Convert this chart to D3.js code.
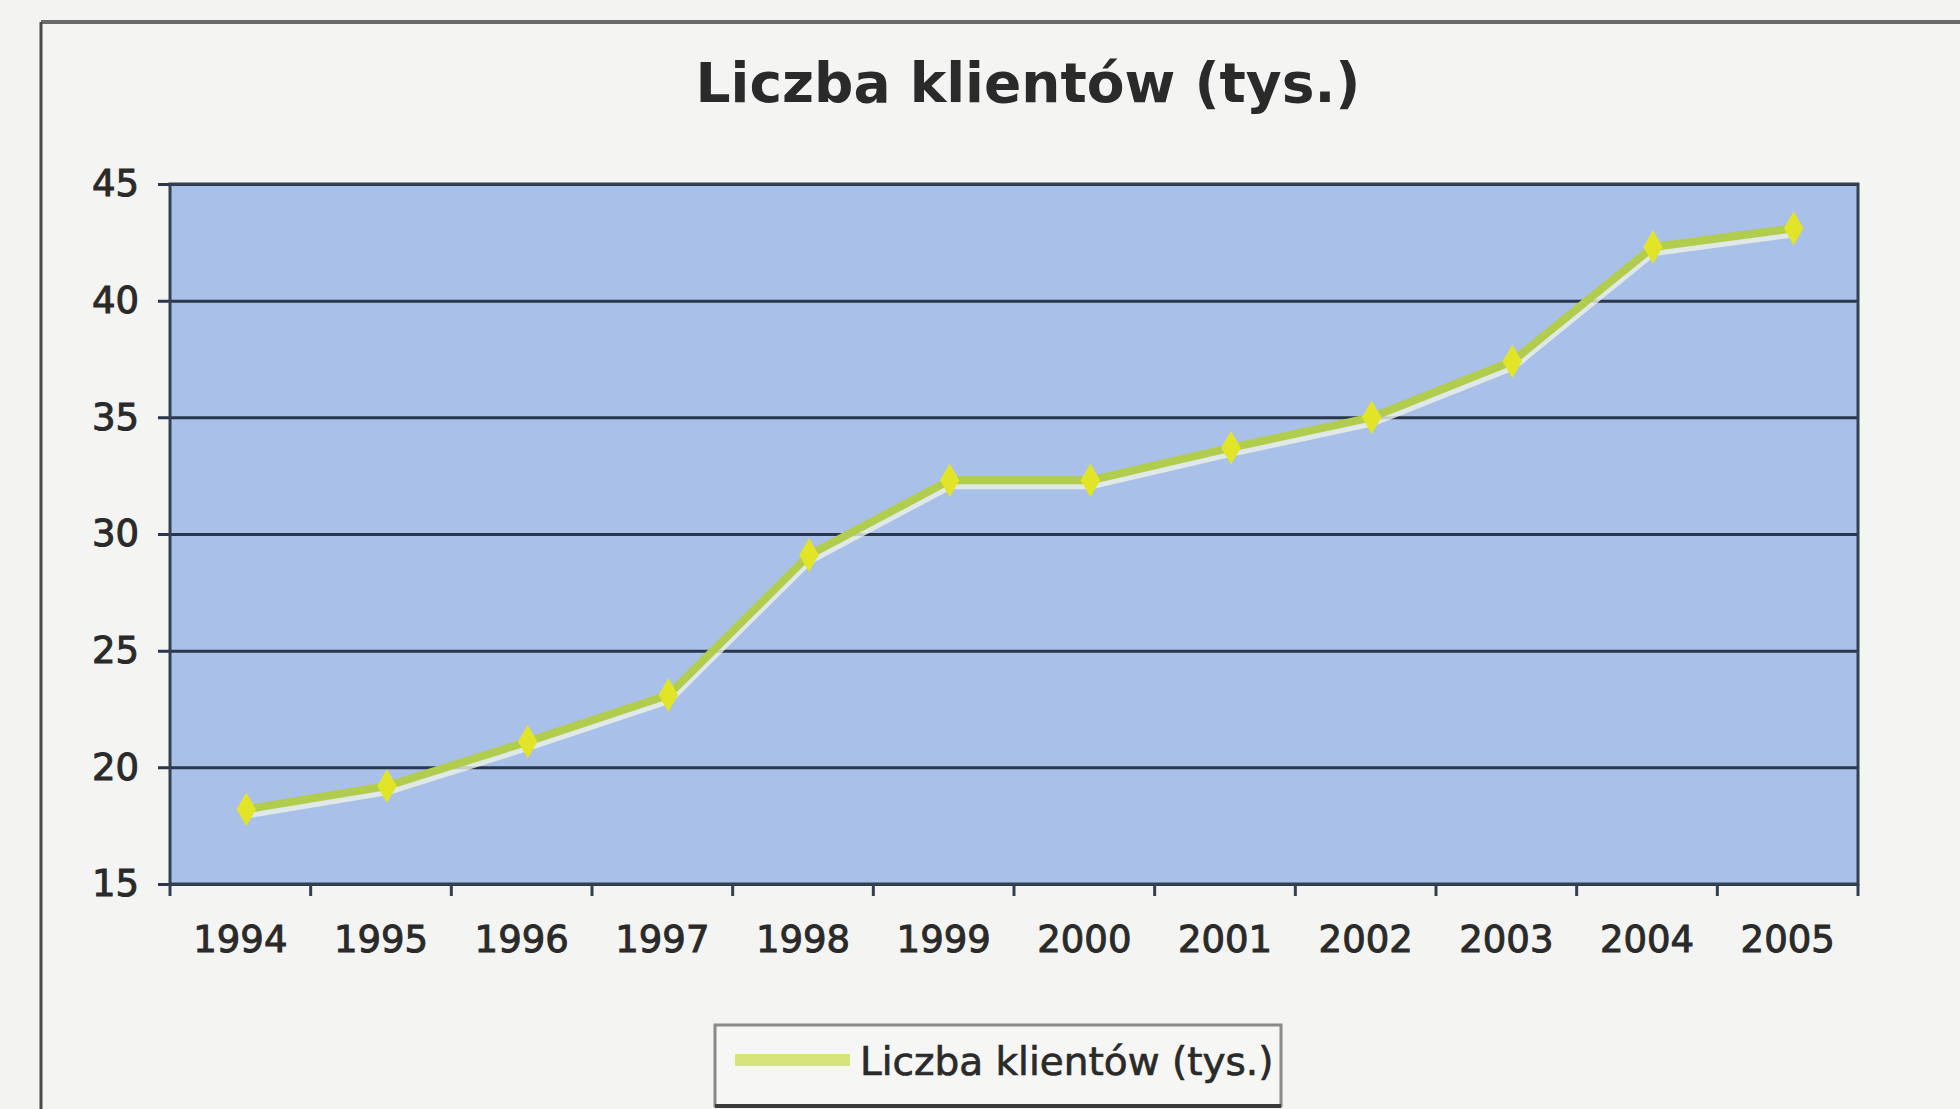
<!DOCTYPE html>
<html>
<head>
<meta charset="utf-8">
<script src="https://cdn.jsdelivr.net/npm/d3@7"></script>
<style>
  html, body { margin: 0; padding: 0; background: #f3f3f1; }
  svg { display: block; }
</style>
</head>
<body>
<div class="main"></div>
<script>
(function() {
  'use strict';

  // values
  var years = ["1994", "1995", "1996", "1997", "1998", "1999", "2000", "2001", "2002", "2003", "2004", "2005"];
  var clients = [18.2, 19.2, 21.1, 23.1, 29.1, 32.3, 32.3, 33.7, 35.0, 37.4, 42.3, 43.1];
  var yTicks = [15, 20, 25, 30, 35, 40, 45];
  var title = "Liczba klientów (tys.)";
  var seriesName = "Liczba klientów (tys.)";

  var W = 1960, H = 1109;
  var left = 170, right = 1858, top = 184, bottom = 884;

  var svg = d3.select(".main")
    .append("svg")
      .attr("width", W)
      .attr("height", H);

  // outer frame of the scanned chart
  svg.append("rect")
      .attr("x", 41)
      .attr("y", 22)
      .attr("width", W - 41)
      .attr("height", H - 22)
      .style("fill", "#f4f4f2");
  svg.append("line")
      .attr("x1", 41).attr("y1", 22).attr("x2", W).attr("y2", 22)
      .style("stroke", "#6a6a6a")
      .style("stroke-width", 4);
  svg.append("line")
      .attr("x1", 41).attr("y1", 22).attr("x2", 41).attr("y2", H)
      .style("stroke", "#4a4a4a")
      .style("stroke-width", 3);

  svg.append("text")
      .attr("x", 1028)
      .attr("y", 102)
      .text(title)
      .style("text-anchor", "middle")
      .style("font-family", "DejaVu Sans")
      .style("font-weight", "bold")
      .style("font-size", "55px")
      .style("fill", "#2a2a2a");

  var x = d3.scaleBand()
    .domain(years)
    .range([left, right]);

  var y = d3.scaleLinear()
    .domain([15, 45])
    .range([bottom, top]);

  svg.append("rect")
      .attr("x", left)
      .attr("y", top)
      .attr("width", right - left)
      .attr("height", bottom - top)
      .style("fill", "#a9c1e8");

  // gridlines + left ticks
  svg.append("g")
      .attr("transform", "translate(" + left + ",0)")
      .call(d3.axisLeft(y)
        .tickValues(yTicks)
        .tickSize(-(right - left))
        .tickSizeOuter(0)
        .tickFormat(""))
      .call(function(g) {
        g.select(".domain").remove();
        g.selectAll("line")
          .attr("x1", -12)
          .style("stroke", "#29364d")
          .style("stroke-width", 3);
      });

  var yAxis = svg.append("g")
      .attr("transform", "translate(" + left + ",0)")
      .call(d3.axisLeft(y)
        .tickValues(yTicks)
        .tickSize(0)
        .tickPadding(31));
  yAxis.select(".domain").remove();
  yAxis.selectAll("text")
      .style("font-family", "DejaVu Sans")
      .style("font-size", "37px")
      .style("fill", "#2a2a2a")
      .style("stroke", "#2a2a2a")
      .style("stroke-width", 1);

  // plot border
  svg.append("rect")
      .attr("x", left)
      .attr("y", top)
      .attr("width", right - left)
      .attr("height", bottom - top)
      .style("fill", "none")
      .style("stroke", "#33404f")
      .style("stroke-width", 3);

  // category boundary ticks under the axis
  var bounds = years.map(function(d) { return x(d); }).concat([right]);
  svg.append("g")
    .selectAll("line")
    .data(bounds)
    .enter()
    .append("line")
      .attr("x1", function(d) { return d; })
      .attr("x2", function(d) { return d; })
      .attr("y1", bottom)
      .attr("y2", bottom + 12)
      .style("stroke", "#33404f")
      .style("stroke-width", 3);

  var xAxis = svg.append("g")
      .attr("transform", "translate(0," + bottom + ")")
      .call(d3.axisBottom(x)
        .tickSize(0)
        .tickPadding(42));
  xAxis.select(".domain").remove();
  xAxis.selectAll("text")
      .style("font-family", "DejaVu Sans")
      .style("font-size", "37px")
      .style("fill", "#2a2a2a")
      .style("stroke", "#2a2a2a")
      .style("stroke-width", 1);

  var pts = years.map(function(d, i) {
    return { year: d, value: clients[i] };
  });

  // points sit a touch right of the label centres in the scan
  var cx = function(d) { return x(d.year) + x.bandwidth() / 2 + 6; };

  var line = d3.line()
    .x(cx)
    .y(function(d) { return y(d.value); });

  // white halo below the line, as in the scan
  svg.append("path")
      .datum(pts)
      .attr("d", line)
      .attr("transform", "translate(1,6)")
      .style("fill", "none")
      .style("stroke", "#eef2e6")
      .style("stroke-width", 6)
      .style("opacity", 0.8);

  svg.append("path")
      .datum(pts)
      .attr("d", line)
      .style("fill", "none")
      .style("stroke", "#b2cc4e")
      .style("stroke-width", 8)
      .style("stroke-linejoin", "round");

  svg.append("g")
    .selectAll("path")
    .data(pts)
    .enter()
    .append("path")
      .attr("d", d3.symbol().type(d3.symbolDiamond).size(330))
      .attr("transform", function(d) {
        return "translate(" + cx(d) + "," + y(d.value) + ")";
      })
      .style("fill", "#e2e428");

  // legend
  var legend = svg.append("g");
  legend.append("rect")
      .attr("x", 715)
      .attr("y", 1025)
      .attr("width", 566)
      .attr("height", 81)
      .style("fill", "#f6f6f4")
      .style("stroke", "#8a8a8a")
      .style("stroke-width", 3);
  legend.append("line")
      .attr("x1", 715).attr("x2", 1281)
      .attr("y1", 1106).attr("y2", 1106)
      .style("stroke", "#3a3a3a")
      .style("stroke-width", 4);
  legend.append("line")
      .attr("x1", 735).attr("x2", 850)
      .attr("y1", 1060).attr("y2", 1060)
      .style("stroke", "#d6e47c")
      .style("stroke-width", 12);
  legend.append("text")
      .attr("x", 860)
      .attr("y", 1075)
      .text(seriesName)
      .style("font-family", "DejaVu Sans")
      .style("font-size", "39px")
      .style("fill", "#2a2a2a")
      .style("stroke", "#2a2a2a")
      .style("stroke-width", 0.7);

})();
</script>
</body>
</html>
